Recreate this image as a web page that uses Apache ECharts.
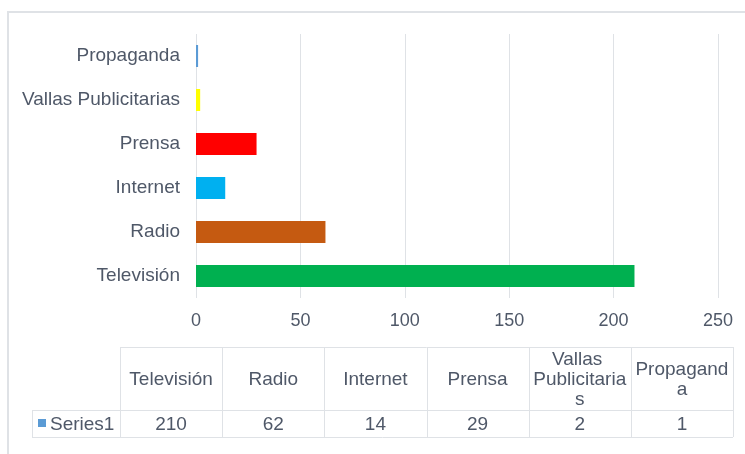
<!DOCTYPE html>
<html>
<head>
<meta charset="utf-8">
<script src="https://cdn.jsdelivr.net/npm/echarts@6/dist/echarts.min.js"></script>
<style>
  html, body { margin: 0; padding: 0; background: #fff; }
  #chart { width: 745px; height: 454px; }
</style>
</head>
<body>
<div id="chart"></div>
<script>
// datos del grafico
const categories = ['Televisión', 'Radio', 'Internet', 'Prensa', 'Vallas Publicitarias', 'Propaganda'];
const values = [210, 62, 14, 29, 2, 1];
const barColors = ['#00b050', '#c55a11', '#00b0f0', '#ff0000', '#ffff00', '#5b9bd5'];
const seriesName = 'Series1';
const xTicks = [0, 50, 100, 150, 200, 250];

const chart = echarts.init(document.getElementById('chart'));

const textColor = '#4f5868';
const lineColor = '#dfe2e6';
const font = 'Liberation Sans, Arial, sans-serif';
const fs = 19;

// tabla de datos debajo del grafico
const tableLeft = 120, tableRight = 733, labelLeft = 32;
const rowTop = 347, rowMid = 410, rowBottom = 437;
const colW = (tableRight - tableLeft) / categories.length;

const graphic = [];
// marco exterior
graphic.push({ type: 'polyline', shape: { points: [[8, 454], [8, 12], [745, 12]] },
  style: { stroke: lineColor, lineWidth: 2, fill: null }, silent: true });

function hline(y, x1, x2) {
  graphic.push({ type: 'line', shape: { x1: x1, y1: y + 0.5, x2: x2, y2: y + 0.5 },
    style: { stroke: lineColor, lineWidth: 1 }, silent: true });
}
function vline(x, y1, y2) {
  graphic.push({ type: 'line', shape: { x1: x + 0.5, y1: y1, x2: x + 0.5, y2: y2 },
    style: { stroke: lineColor, lineWidth: 1 }, silent: true });
}
hline(rowTop, tableLeft, tableRight);
hline(rowMid, labelLeft, tableRight);
hline(rowBottom, labelLeft, tableRight);
vline(labelLeft, rowMid, rowBottom);
for (let i = 0; i <= categories.length; i++) {
  vline(Math.round(tableLeft + i * colW), rowTop, rowBottom);
}
categories.forEach(function (c, i) {
  const cx = tableLeft + (i + 0.5) * colW;
  graphic.push({ type: 'text', x: cx, y: (rowTop + rowMid) / 2 + 1.5, silent: true,
    style: { text: c, width: 96, overflow: 'break', lineHeight: 20,
      font: fs + 'px ' + font, fill: textColor, align: 'center', verticalAlign: 'middle' } });
  graphic.push({ type: 'text', x: cx, y: (rowMid + rowBottom) / 2 + 1, silent: true,
    style: { text: String(values[i]), font: fs + 'px ' + font, fill: textColor,
      align: 'center', verticalAlign: 'middle' } });
});
// leyenda de la serie
graphic.push({ type: 'rect', shape: { x: 38, y: 419, width: 8, height: 8 },
  style: { fill: '#5b9bd5' }, silent: true });
graphic.push({ type: 'text', x: 50, y: (rowMid + rowBottom) / 2 + 1, silent: true,
  style: { text: seriesName, font: fs + 'px ' + font, fill: textColor,
    align: 'left', verticalAlign: 'middle' } });

const option = {
  animation: false,
  grid: { left: 196, right: 27, top: 34, bottom: 156, containLabel: false },
  xAxis: {
    type: 'value',
    min: xTicks[0],
    max: xTicks[xTicks.length - 1],
    interval: xTicks[1] - xTicks[0],
    axisLine: { show: false },
    axisTick: { show: false },
    splitLine: { lineStyle: { color: lineColor, width: 1 } },
    axisLabel: { color: textColor, fontSize: 18, fontFamily: font, margin: 14 }
  },
  yAxis: {
    type: 'category',
    data: categories,
    axisLine: { show: false },
    axisTick: { show: false },
    axisLabel: { color: textColor, fontSize: fs, fontFamily: font, margin: 16 }
  },
  series: [{
    name: seriesName,
    type: 'bar',
    barCategoryGap: '50%',
    data: values.map(function (v, i) {
      return { value: v, itemStyle: { color: barColors[i] } };
    })
  }],
  graphic: graphic
};

chart.setOption(option);
</script>
</body>
</html>
